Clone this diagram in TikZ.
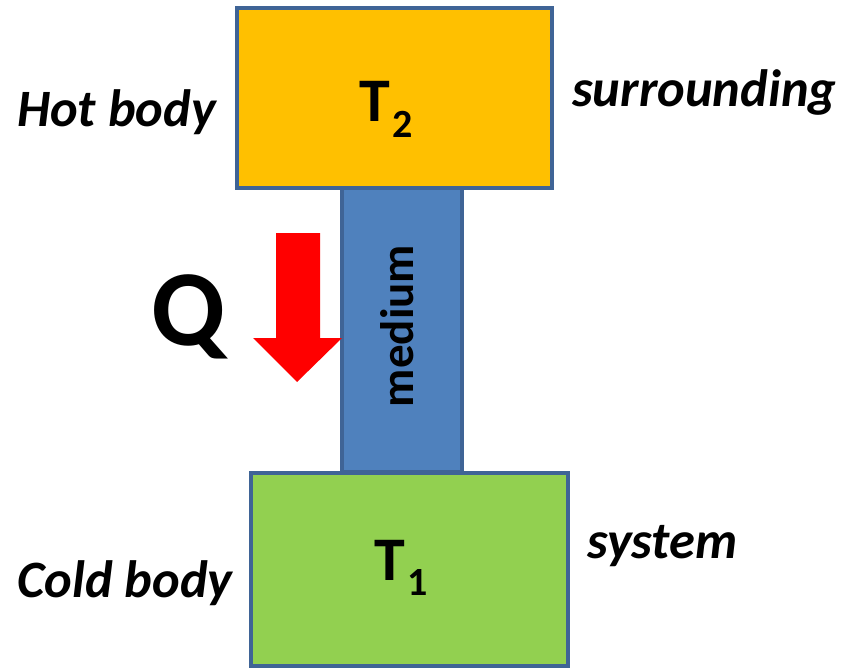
\documentclass[tikz,border=0pt]{standalone}
\usepackage{fontspec}
\setmainfont{Carlito}
\definecolor{hot}{HTML}{FFC000}
\definecolor{cold}{HTML}{92D050}
\definecolor{med}{HTML}{4F81BD}
\definecolor{edge}{HTML}{3F6496}
\definecolor{qred}{HTML}{FF0000}
\begin{document}
\begin{tikzpicture}[x=1pt,y=-1pt,
  box/.style={draw=edge, line width=4pt, inner sep=0pt},
  lbl/.style={inner sep=0pt, anchor=base west, font=\fontsize{52.5}{52.5}\selectfont\bfseries\itshape},
  tlbl/.style={inner sep=0pt, anchor=base west, font=\fontsize{62}{62}\selectfont\bfseries},
  sub/.style={inner sep=0pt, anchor=base west, font=\fontsize{40}{40}\selectfont\bfseries}]
\path[use as bounding box] (0,0) rectangle (842,668);
% medium
\node[box, fill=med, minimum width=120pt, minimum height=284pt] (medium) at (402,330) {};
\node[inner sep=0pt, rotate=90, font=\fontsize{47}{47}\selectfont\bfseries] (mediumtxt) at (397,326) {medium};
% hot and cold bodies
\node[box, fill=hot, minimum width=315pt, minimum height=180pt] (hotbox) at (394.5,98) {};
\node[box, fill=cold, minimum width=317pt, minimum height=193pt] (coldbox) at (409.5,569.5) {};
% T labels
\node[tlbl] (T2) at (359,122) {T};
\node[sub] (s2) at (392,138) {2};
\node[tlbl] (T1) at (374,580) {T};
\node[sub] (s1) at (407,595) {1};
% side labels
\node[lbl] (hot) at (17,127) {Hot body};
\node[lbl] (surr) at (572,107) {surrounding};
\node[lbl] (sys) at (587,558) {system};
\node[lbl] (cold) at (17,597) {Cold body};
% Q and arrow
\node[inner sep=0pt, anchor=base west, font=\fontsize{108}{108}\selectfont\bfseries] (Q) at (151,345) {Q};
\fill[qred] (276,233) -- (320,233) -- (320,338) -- (342,338) -- (297,382) -- (253,338) -- (276,338) -- cycle;
\end{tikzpicture}
\end{document}
